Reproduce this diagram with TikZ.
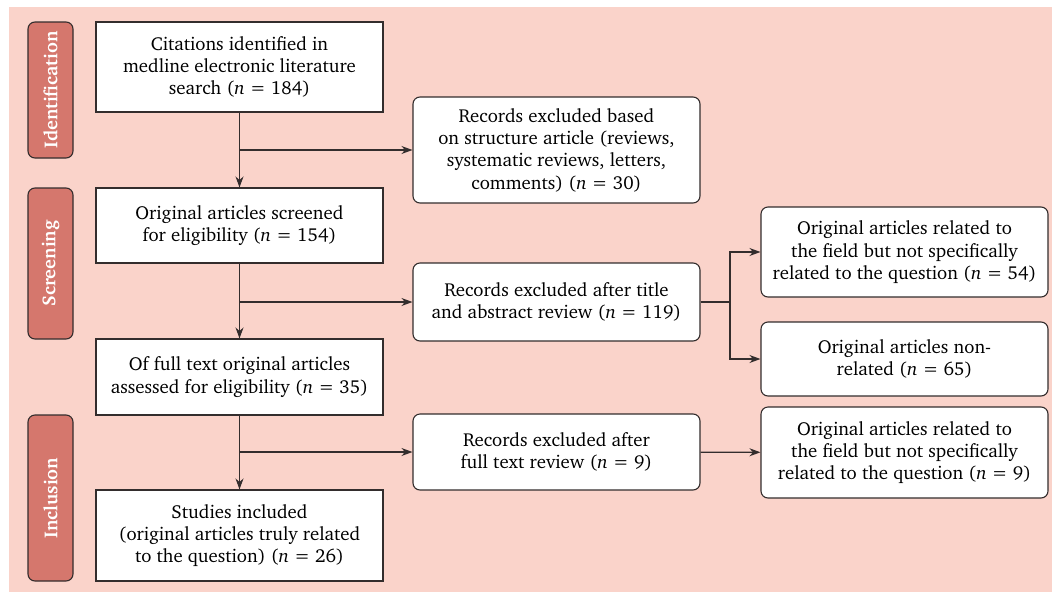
\documentclass[tikz,border=0pt]{standalone}
\usepackage[T1]{fontenc}
\usepackage{charter}
\usetikzlibrary{arrows.meta}
\usetikzlibrary{calc}
\definecolor{pinkbg}{RGB}{250,211,202}
\definecolor{stagered}{RGB}{213,119,109}
\definecolor{linegray}{RGB}{51,45,45}

\begin{document}
\begin{tikzpicture}[x=1pt, y=-1pt, font=\fontsize{18.8}{22.3}\selectfont,
	box/.style={draw=linegray, fill=white, align=center, minimum width=287pt, inner sep=2pt, line width=1.1pt},
	sidebox/.style={box, rounded corners=7pt},
	stage/.style={draw=linegray, fill=stagered, rounded corners=7pt, text=white, rotate=90, minimum height=45pt, inner sep=0pt, line width=1.1pt, font=\fontsize{18.8}{20}\selectfont\bfseries},
	flow/.style={draw=linegray, line width=1.1pt, -{Stealth[length=11pt,width=8pt]}}]
	\fill[pinkbg] (9,7) rectangle (1052,592);
	\useasboundingbox (0,0) rectangle (1052,592);
	% stages
	\node[stage, minimum width=136pt] (ident) at (50.5,90) {Identification};
	\node[stage, minimum width=151pt] (screen) at (50.5,263.5) {Screening};
	\node[stage, minimum width=166pt] (incl) at (50.5,498) {Inclusion};
	% main column
	\node[box, minimum height=90pt] (cited) at (239.5,67) {Citations identified in\\medline electronic literature\\search (\textit{n}~=~184)};
	\node[box, minimum height=75pt] (screened) at (239.5,225.5) {Original articles screened\\for eligibility (\textit{n}~=~154)};
	\node[box, minimum height=76pt] (assessed) at (239.5,377) {Of full text original articles\\assessed for eligibility (\textit{n}~=~35)};
	\node[box, minimum height=91pt] (included) at (239.5,535.5) {Studies included\\(original articles truly related\\to the question) (\textit{n}~=~26)};
	% excluded records
	\node[sidebox, minimum height=106pt] (exstruct) at (556.5,150) {Records excluded based\\on structure article (reviews,\\systematic reviews, letters,\\comments) (\textit{n}~=~30)};
	\node[sidebox, minimum height=78pt] (exabstr) at (556.5,302) {Records excluded after title\\and abstract review (\textit{n}~=~119)};
	\node[sidebox, minimum height=76pt] (exfull) at (556.5,452) {Records excluded after\\full text review (\textit{n}~=~9)};
	% reasons
	\node[sidebox, minimum height=90pt] (field54) at (904.5,252) {Original articles related to\\the field but not specifically\\related to the question (\textit{n}~=~54)};
	\node[sidebox, minimum height=74pt] (nonrel) at (904.5,359) {Original articles non-\\related (\textit{n}~=~65)};
	\node[sidebox, minimum height=91pt] (field9) at (904.5,452.5) {Original articles related to\\the field but not specifically\\related to the question (\textit{n}~=~9)};
	% branch points
	\coordinate (b1) at (cited.south |- exstruct.west);
	\coordinate (b2) at (screened.south |- exabstr.west);
	\coordinate (b3) at (assessed.south |- exfull.west);
	\coordinate (b4) at (730,302);
	\draw[flow] (cited) -- (screened);
	\draw[flow] (b1) -- (exstruct);
	\draw[flow] (screened) -- (assessed);
	\draw[flow] (b2) -- (exabstr);
	\draw[flow] (assessed) -- (included);
	\draw[flow] (b3) -- (exfull);
	\draw[draw=linegray, line width=1.1pt] (exabstr.east) -- (b4);
	\draw[flow] (b4) |- (field54.west);
	\draw[flow] (b4) |- (nonrel.west);
	\draw[flow] (exfull) -- (field9);
\end{tikzpicture}
\end{document}
